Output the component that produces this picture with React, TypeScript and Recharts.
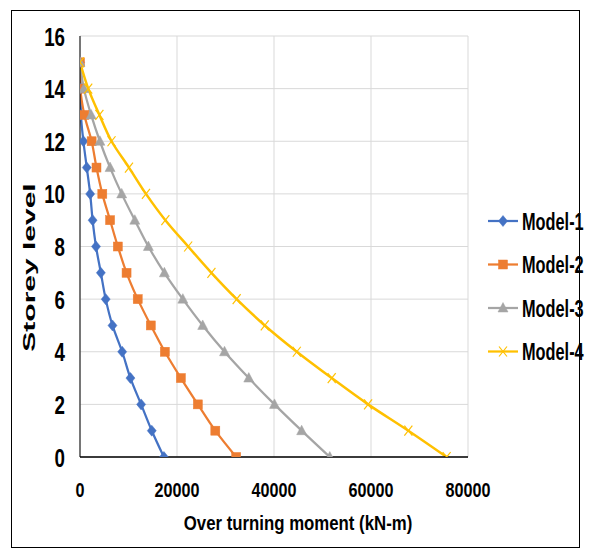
import React from "react";
import { LineChart, Line, XAxis, YAxis, CartesianGrid, Legend } from "recharts";

const storeys = [0, 1, 2, 3, 4, 5, 6, 7, 8, 9, 10, 11, 12, 13, 14, 15];
const model1 = [17300, 14800, 12600, 10400, 8700, 6700, 5300, 4300, 3300, 2600, 2100, 1400, 700, 200, 100, 0];
const model2 = [32200, 27900, 24300, 20800, 17500, 14600, 11900, 9600, 7800, 6200, 4600, 3400, 2400, 900, 100, 0];
const model3 = [51500, 45700, 40100, 34800, 29800, 25300, 21200, 17400, 14100, 11300, 8600, 6200, 4100, 2300, 800, 0];
const model4 = [75600, 67700, 59400, 51900, 44700, 38100, 32300, 27100, 22300, 17600, 13600, 10100, 6500, 4000, 1700, 0];
const xTicks = [0, 20000, 40000, 60000, 80000];
const yTicks = [0, 2, 4, 6, 8, 10, 12, 14, 16];
const seriesNames = ["Model-1", "Model-2", "Model-3", "Model-4"];

const COLORS = ["#4472C4", "#ED7D31", "#A5A5A5", "#FFC000"];
const FONT = "'Liberation Sans', Arial, sans-serif";

const rows = storeys.map((s, i) => ({
  storey: s,
  m1: model1[i],
  m2: model2[i],
  m3: model3[i],
  m4: model4[i],
}));

function marker(kind: number, cx: number, cy: number, key?: any) {
  const c = COLORS[kind];
  if (kind === 0) {
    return <path key={key} d={`M${cx},${cy - 5.5}L${cx + 4.5},${cy}L${cx},${cy + 5.5}L${cx - 4.5},${cy}Z`} fill={c} stroke={c} strokeWidth={0.5} />;
  }
  if (kind === 1) {
    return <rect key={key} x={cx - 4.5} y={cy - 4.5} width={9} height={9} fill={c} stroke={c} strokeWidth={0.5} />;
  }
  if (kind === 2) {
    return <path key={key} d={`M${cx},${cy - 5.5}L${cx + 5},${cy + 4}L${cx - 5},${cy + 4}Z`} fill={c} stroke={c} strokeWidth={0.5} />;
  }
  return (
    <g key={key}>
      <line x1={cx - 4} y1={cy - 5} x2={cx + 4} y2={cy + 5} stroke={c} strokeWidth={1.2} />
      <line x1={cx + 4} y1={cy - 5} x2={cx - 4} y2={cy + 5} stroke={c} strokeWidth={1.2} />
    </g>
  );
}

const makeDot = (kind: number) => (p: any) => {
  if (p.cx == null || p.cy == null) return <g key={`e-${kind}-${p.index}`} />;
  return marker(kind, p.cx, p.cy, `d-${kind}-${p.index}`);
};

const YTick = (p: any) => (
  <text
    transform={`translate(${p.x},${p.y}) scale(0.75,1)`}
    textAnchor="end"
    dy="0.38em"
    fontSize={25}
    fontWeight="bold"
    fontFamily={FONT}
    fill="#000"
  >
    {p.payload.value}
  </text>
);

const XTick = (p: any) => (
  <text
    transform={`translate(${p.x},${p.y}) scale(0.77,1)`}
    textAnchor="middle"
    dy="0.72em"
    fontSize={21}
    fontWeight="bold"
    fontFamily={FONT}
    fill="#000"
  >
    {p.payload.value}
  </text>
);

const XTitle = (p: any) => {
  const vb = p.viewBox || { x: 80, y: 457, width: 388, height: 99 };
  const cx = vb.x + vb.width / 2 + 24;
  const by = vb.y + 73;
  return (
    <text
      transform={`translate(${cx},${by}) scale(0.8,1)`}
      textAnchor="middle"
      fontSize={21}
      fontWeight="bold"
      fontFamily={FONT}
      fill="#000"
    >
      Over turning moment (kN-m)
    </text>
  );
};

const YTitle = (p: any) => {
  const vb = p.viewBox || { x: 0, y: 36, width: 80, height: 421 };
  const cy = vb.y + vb.height / 2 + 21;
  return (
    <text
      transform={`translate(35,${cy}) rotate(-90) scale(1,0.55)`}
      textAnchor="middle"
      fontSize={30}
      fontWeight="bold"
      fontFamily={FONT}
      fill="#000"
    >
      Storey level
    </text>
  );
};

const LegendContent = () => (
  <svg width={110} height={190} style={{ display: "block", overflow: "visible" }}>
    {seriesNames.map((name, i) => {
      const cy = 26 + i * 43.5;
      return (
        <g key={name}>
          <line x1={8} y1={cy} x2={38} y2={cy} stroke={COLORS[i]} strokeWidth={2.25} />
          {marker(i, 23, cy)}
          <text
            transform={`translate(42,${cy + 8.6}) scale(0.68,1)`}
            fontSize={24}
            fontWeight="bold"
            fontFamily={FONT}
            fill="#000"
          >
            {name}
          </text>
        </g>
      );
    })}
  </svg>
);

export default function App() {
  return (
    <div style={{ position: "fixed", left: 0, top: 0, width: 590, height: 556, background: "#fff" }}>
      <div
        style={{
          position: "absolute",
          left: 11,
          top: 10,
          width: 569,
          height: 538,
          border: "1px solid #000",
          boxSizing: "border-box",
        }}
      />
      <div style={{ position: "absolute", left: 0, top: 0 }}>
        <LineChart
          width={590}
          height={556}
          layout="vertical"
          data={rows}
          margin={{ top: 36, right: 12, bottom: 0, left: 0 }}
        >
          <CartesianGrid stroke="#D9D9D9" strokeWidth={1} />
          <XAxis
            type="number"
            dataKey="m1"
            domain={[0, 80000]}
            ticks={xTicks}
            tickLine={false}
            tickMargin={19}
            height={99}
            axisLine={{ stroke: "#000", strokeWidth: 1.5 }}
            tick={XTick}
            label={{ content: XTitle }}
            allowDataOverflow
          />
          <YAxis
            type="number"
            dataKey="storey"
            domain={[0, 16]}
            ticks={yTicks}
            reversed
            tickLine={false}
            tickMargin={9}
            width={80}
            axisLine={{ stroke: "#000", strokeWidth: 1 }}
            tick={YTick}
            label={{ content: YTitle }}
            allowDataOverflow
          />
          <Legend
            layout="vertical"
            align="right"
            verticalAlign="middle"
            content={LegendContent}
            wrapperStyle={{ position: "absolute", left: 480, top: 195, width: 110, height: 190 }}
          />
          <Line dataKey="m1" name="Model-1" type="monotone" stroke={COLORS[0]} strokeWidth={2.25} dot={makeDot(0)} isAnimationActive={false} />
          <Line dataKey="m2" name="Model-2" type="monotone" stroke={COLORS[1]} strokeWidth={2.25} dot={makeDot(1)} isAnimationActive={false} />
          <Line dataKey="m3" name="Model-3" type="monotone" stroke={COLORS[2]} strokeWidth={2.25} dot={makeDot(2)} isAnimationActive={false} />
          <Line dataKey="m4" name="Model-4" type="monotone" stroke={COLORS[3]} strokeWidth={2.5} dot={makeDot(3)} isAnimationActive={false} />
        </LineChart>
      </div>
    </div>
  );
}
